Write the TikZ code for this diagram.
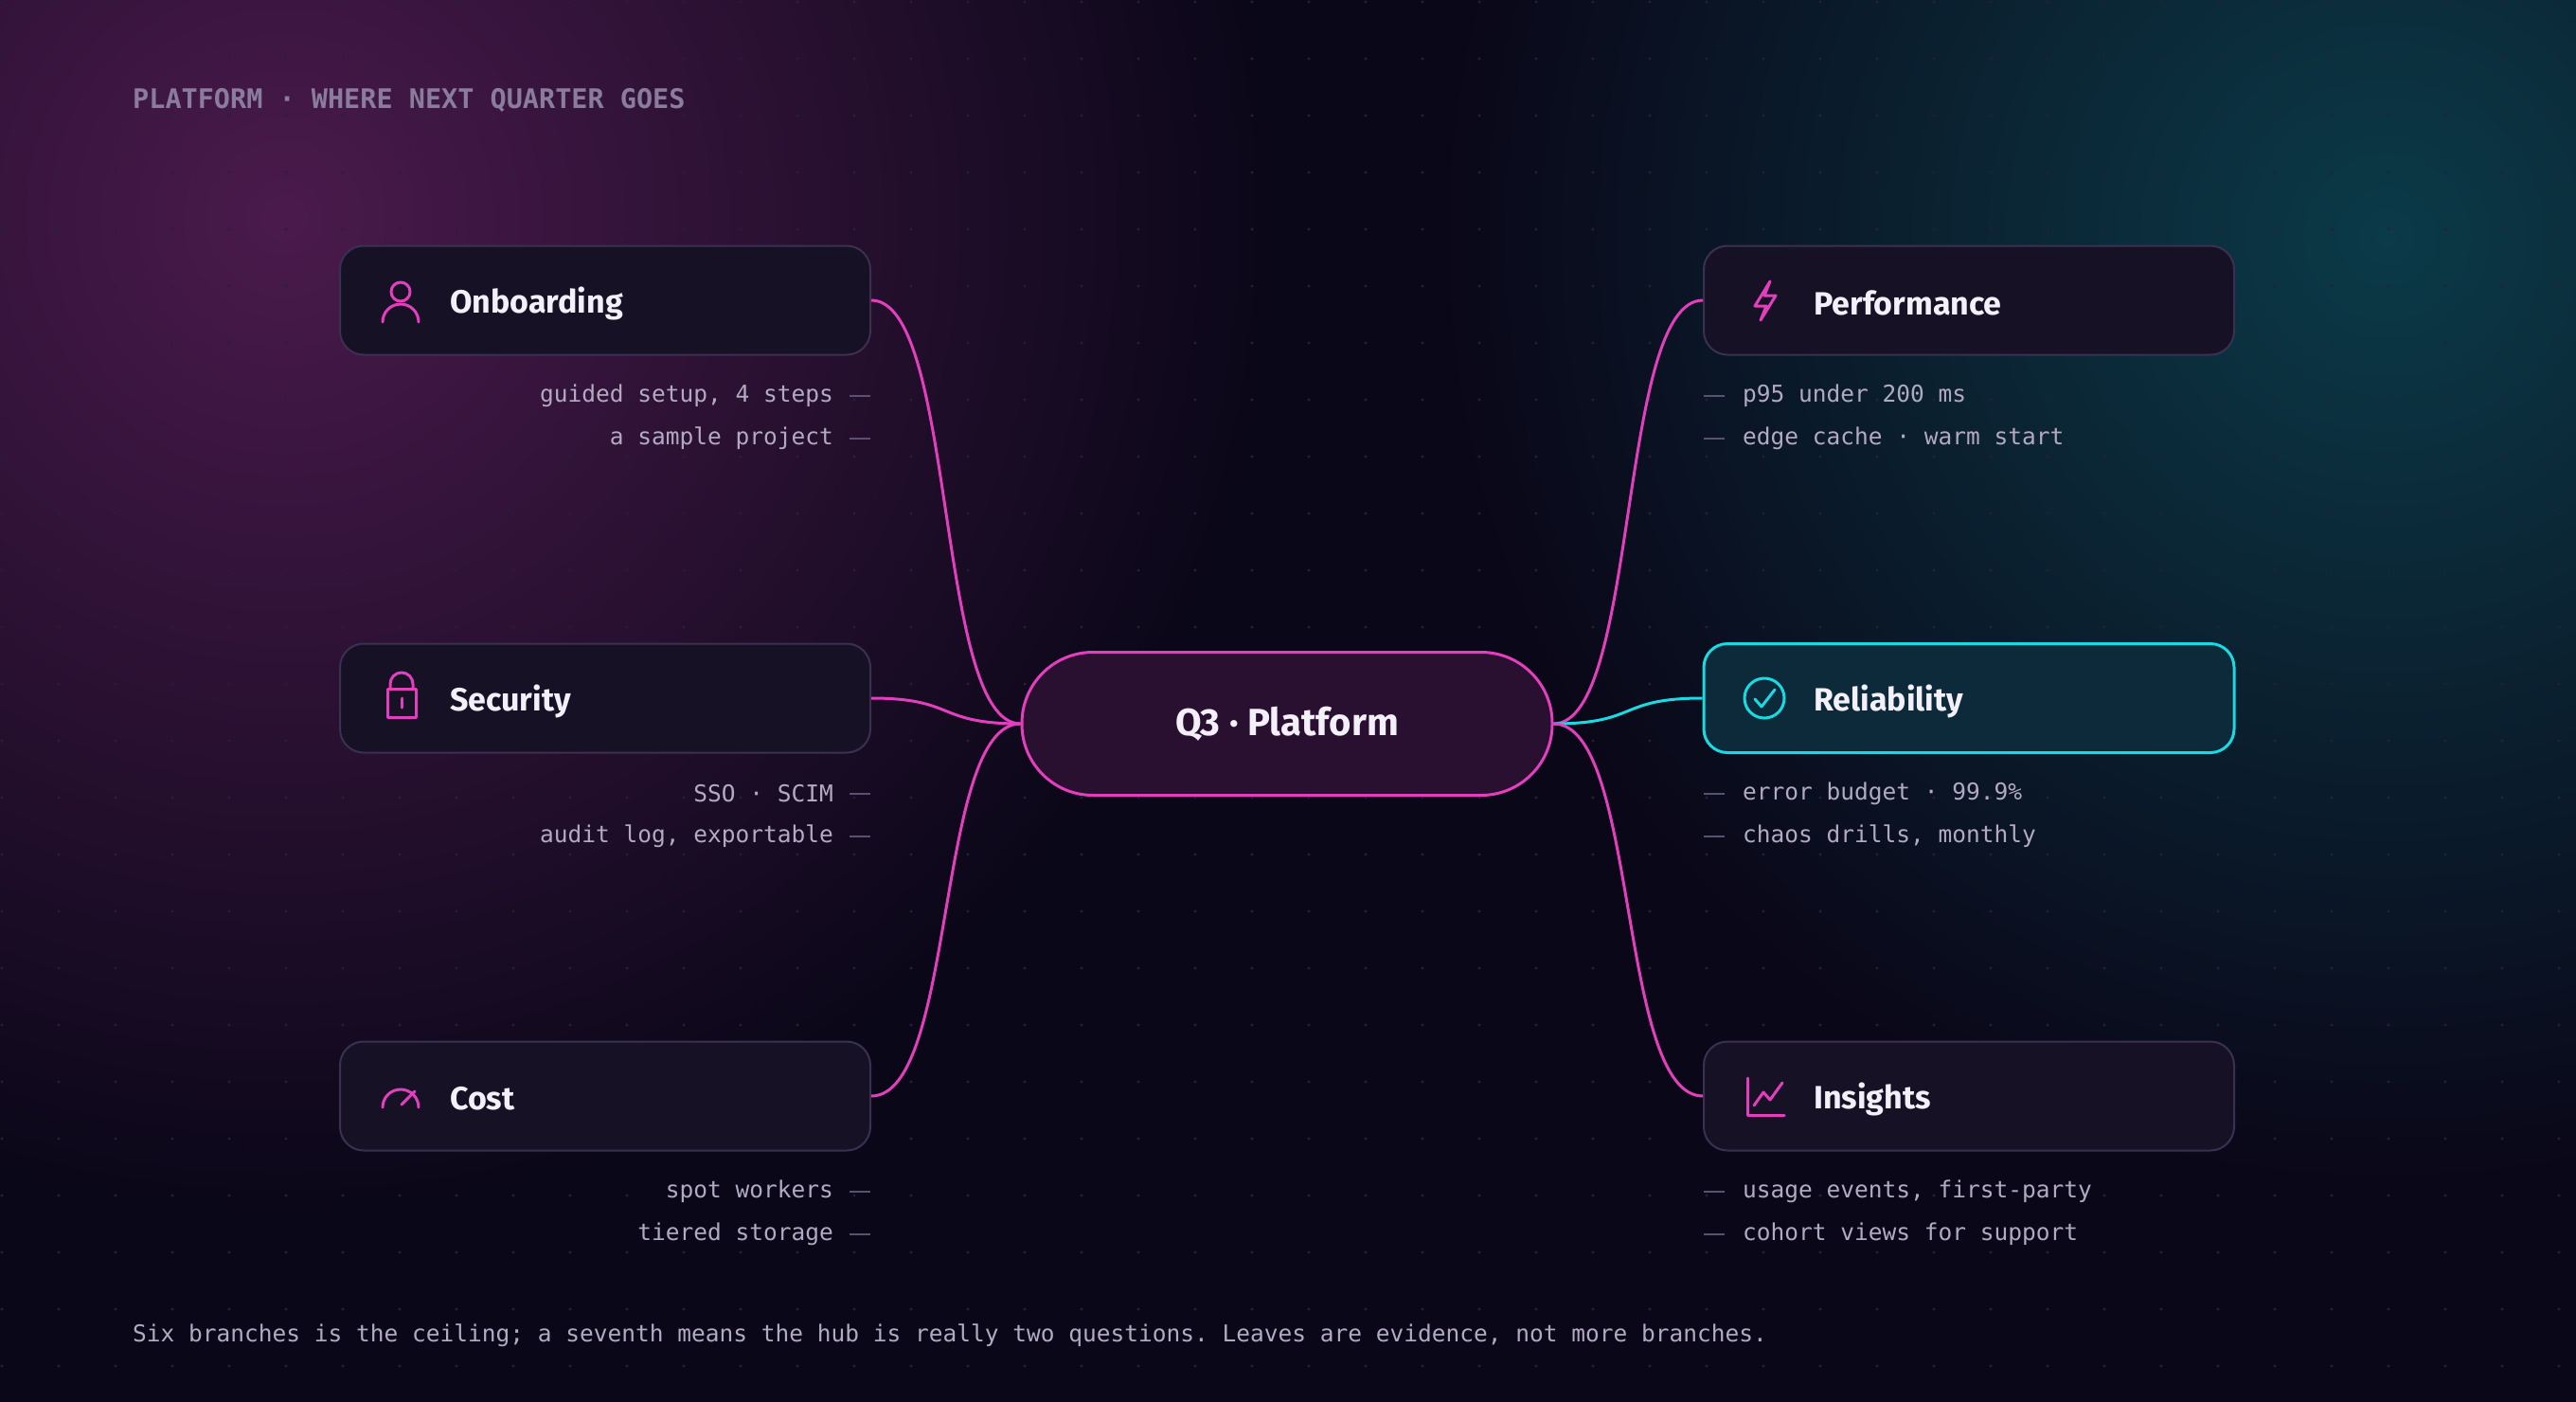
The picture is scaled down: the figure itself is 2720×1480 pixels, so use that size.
\documentclass[tikz,border=0pt]{standalone}
\usepackage{fontspec}
\usetikzlibrary{calc}
\setsansfont{Fira Sans}
\setmonofont{DejaVu Sans Mono}
\begin{document}
\definecolor{bg}{HTML}{0A0718}
\definecolor{glowp}{HTML}{4A1A4C}
\definecolor{glowt}{HTML}{0B3A48}
\definecolor{dotc}{HTML}{262038}
\definecolor{boxf}{HTML}{171126}
\definecolor{boxd}{HTML}{3A3150}
\definecolor{pink}{HTML}{E23FBC}
\definecolor{cyanc}{HTML}{1AD9E0}
\definecolor{hubf}{HTML}{2A1030}
\definecolor{relf}{HTML}{0C2A3A}
\definecolor{titlec}{HTML}{F4F0FA}
\definecolor{leafc}{HTML}{B2AAC2}
\definecolor{dashc}{HTML}{5A5070}
\definecolor{headc}{HTML}{8A7C9C}
\begin{tikzpicture}[x=1pt,y=1pt,
  box/.style={draw=boxd,line width=2pt,fill=boxf,rounded corners=25pt,minimum width=560pt,minimum height=115pt,inner sep=0pt},
  ttl/.style={anchor=west,text=titlec,font=\sffamily\bfseries\fontsize{34}{40}\selectfont,inner sep=0pt},
  leafL/.style={anchor=east,text=leafc,font=\ttfamily\fontsize{24.5}{28}\selectfont,inner sep=0pt},
  leafR/.style={anchor=west,text=leafc,font=\ttfamily\fontsize{24.5}{28}\selectfont,inner sep=0pt},
  leafdash/.style={draw=dashc,line width=2pt},
  conn/.style={draw=pink,line width=3pt},
  ico/.style={draw=pink,line width=3pt,line cap=round,line join=round}]
\useasboundingbox (0,0) rectangle (2720,-1480);
\fill[bg] (0,0) rectangle (2720,-1480);
\begin{scope}
\clip (0,0) rectangle (2720,-1480);
\shade[inner color=glowp,outer color=bg] (300,-230) circle (1050);
\shade[inner color=glowt,outer color=bg] (2520,-250) circle (1000);
\end{scope}
\foreach \x in {2,62,...,2720}{\foreach \y in {2,62,...,1480}{\fill[dotc] (\x,-\y) circle (1.6);}}
% header
\node[anchor=west,text=headc,font=\ttfamily\bfseries\fontsize{28.5}{32}\selectfont,inner sep=0pt] (head) at (140,-106) {PLATFORM · WHERE NEXT QUARTER GOES};
% hub
\node[draw=pink,line width=3pt,fill=hubf,rounded corners=75pt,minimum width=560pt,minimum height=151pt,inner sep=0pt,text=titlec,font=\sffamily\bfseries\fontsize{40}{46}\selectfont] (hub) at (1359,-764) {Q3 · Platform};
% boxes
\node[box] (onb) at (639,-317) {};
\node[box] (sec) at (639,-737) {};
\node[box] (cost) at (639,-1157) {};
\node[box] (perf) at (2079,-317) {};
\node[box,draw=cyanc,fill=relf,line width=3pt] (rel) at (2079,-737) {};
\node[box] (ins) at (2079,-1157) {};
% titles
\node[ttl] (tonb) at (475,-320) {Onboarding};
\node[ttl] (tsec) at (475,-740) {Security};
\node[ttl] (tcost) at (475,-1160) {Cost};
\node[ttl] (tperf) at (1915,-320) {Performance};
\node[ttl] (trel) at (1915,-740) {Reliability};
\node[ttl] (tins) at (1915,-1160) {Insights};
% connectors
\draw[conn] (onb.east) .. controls ($(onb.east)+(90,0)$) and ($(hub.west)+(-90,0)$) .. (hub.west);
\draw[conn] (sec.east) .. controls ($(sec.east)+(90,0)$) and ($(hub.west)+(-90,0)$) .. (hub.west);
\draw[conn] (cost.east) .. controls ($(cost.east)+(90,0)$) and ($(hub.west)+(-90,0)$) .. (hub.west);
\draw[conn] (perf.west) .. controls ($(perf.west)+(-90,0)$) and ($(hub.east)+(90,0)$) .. (hub.east);
\draw[conn,draw=cyanc] (rel.west) .. controls ($(rel.west)+(-90,0)$) and ($(hub.east)+(90,0)$) .. (hub.east);
\draw[conn] (ins.west) .. controls ($(ins.west)+(-90,0)$) and ($(hub.east)+(90,0)$) .. (hub.east);
% leaves left
\foreach \n/\y/\t in {l1/418/{guided setup, 4 steps},l2/463/{a sample project},l3/838/{SSO · SCIM},l4/883/{audit log, exportable},l5/1258/{spot workers},l6/1303/{tiered storage}}{
  \node[leafL] (\n) at (880,-\y) {\t};
  \coordinate (\n a) at (897,-\y); \coordinate (\n b) at (919,-\y);
  \draw[leafdash] (\n a) -- (\n b);}
\foreach \n/\y/\t in {r1/418/{p95 under 200 ms},r2/463/{edge cache · warm start},r3/838/{error budget · 99.9\%},r4/883/{chaos drills, monthly},r5/1258/{usage events, first-party},r6/1303/{cohort views for support}}{
  \node[leafR] (\n) at (1840,-\y) {\t};
  \coordinate (\n a) at (1799,-\y); \coordinate (\n b) at (1821,-\y);
  \draw[leafdash] (\n a) -- (\n b);}
% footer
\node[anchor=west,text=leafc,font=\ttfamily\fontsize{24.5}{28}\selectfont,inner sep=0pt] (foot) at (140,-1410) {Six branches is the ceiling; a seventh means the hub is really two questions. Leaves are evidence, not more branches.};
% icons
\draw[ico] (423,-308) circle (10);
\draw[ico] (404,-340) arc (180:0:19);
\draw[ico] (409,-727) rectangle (439,-757);
\draw[ico] (412,-727) -- (412,-722) arc (180:0:12) -- (436,-727);
\draw[ico] (424,-737) -- (424,-747);
\draw[ico] (404,-1169) arc (180:0:19);
\draw[ico] (424,-1166) -- (438,-1152);
\draw[ico] (1869,-297) -- (1853,-323) -- (1865,-323) -- (1859,-338) -- (1875,-312) -- (1863,-312) -- cycle;
\draw[draw=cyanc,line width=3pt] (1863,-737) circle (21);
\draw[draw=cyanc,line width=3pt,line cap=round,line join=round] (1853,-738) -- (1860,-746) -- (1874,-728);
\draw[ico] (1845,-1138) -- (1845,-1177) -- (1884,-1177);
\draw[ico] (1852,-1167) -- (1862,-1153) -- (1869,-1161) -- (1882,-1143);
\end{tikzpicture}
\end{document}
